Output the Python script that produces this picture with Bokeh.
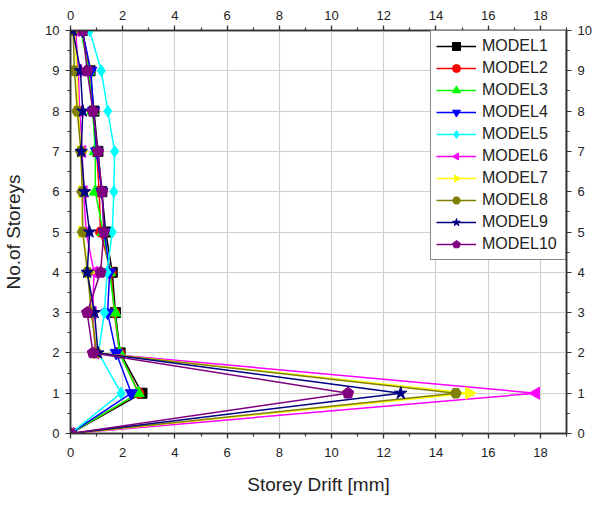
from bokeh.plotting import figure
from bokeh.models import (LinearAxis, SingleIntervalTicker, Range1d, Legend, LegendItem)
from bokeh.embed import file_html
from bokeh.resources import INLINE
import math

storeys = [0, 1, 2, 3, 4, 5, 6, 7, 8, 9, 10]

model1 = [0, 2.74, 1.90, 1.72, 1.60, 1.35, 1.20, 1.05, 0.90, 0.75, 0.45]
model2 = [0, 2.62, 1.88, 1.68, 1.55, 1.15, 1.10, 1.00, 0.85, 0.72, 0.45]
model3 = [0, 2.60, 1.88, 1.70, 1.50, 1.25, 0.95, 0.95, 0.85, 0.70, 0.40]
model4 = [0, 2.33, 1.75, 1.42, 1.50, 1.30, 1.20, 1.00, 0.88, 0.78, 0.45]
model5 = [0, 1.94, 1.07, 1.30, 1.40, 1.60, 1.66, 1.69, 1.43, 1.18, 0.73]
model6 = [0, 17.83, 0.95, 0.85, 0.90, 0.60, 0.50, 0.45, 0.35, 0.30, 0.20]
model7 = [0, 15.27, 1.00, 0.80, 0.70, 0.45, 0.45, 0.40, 0.30, 0.25, 0.15]
model8 = [0, 14.76, 1.00, 0.80, 0.65, 0.47, 0.45, 0.40, 0.26, 0.15, 0.10]
model9 = [0, 12.65, 1.05, 0.92, 0.64, 0.73, 0.54, 0.41, 0.47, 0.38, 0.09]
model10 = [0, 10.63, 0.86, 0.64, 1.15, 1.28, 1.21, 1.05, 0.86, 0.64, 0.47]

names = ["MODEL1", "MODEL2", "MODEL3", "MODEL4", "MODEL5",
         "MODEL6", "MODEL7", "MODEL8", "MODEL9", "MODEL10"]
series = [model1, model2, model3, model4, model5,
          model6, model7, model8, model9, model10]
colors = ["#000000", "#FF0000", "#00FF00", "#0000FF", "#00FFFF",
          "#FF00FF", "#FFFF00", "#808000", "#000080", "#800080"]
markers = ["square", "circle", "triangle", "inverted_triangle", "diamond",
           "ngon3", "ngon3", "hex", "star", "ngon5"]
angles = [0, 0, 0, 0, 0, math.pi / 2, -math.pi / 2, 0, 0, 0]
sizes = [10, 10, 12, 12, 12, 7, 7, 11, 13, 6]

FONT = "Liberation Sans"

p = figure(output_backend="svg", toolbar_location=None,
           frame_width=496, frame_height=403,
           min_border_left=64, min_border_right=24,
           min_border_top=30, min_border_bottom=69,
           x_range=Range1d(0, 19), y_range=Range1d(0, 10),
           x_axis_label="Storey Drift [mm]", y_axis_label="No.of Storeys")
p.background_fill_color = "white"
p.border_fill_color = "white"
p.outline_line_color = "#333333"
p.outline_line_width = 1.5

xt = SingleIntervalTicker(interval=2, num_minor_ticks=2)
yt = SingleIntervalTicker(interval=1, num_minor_ticks=2)
p.xaxis.ticker = xt
p.yaxis.ticker = yt
p.xgrid.ticker = xt
p.ygrid.ticker = yt
p.xgrid.grid_line_color = "#d0d0d0"
p.ygrid.grid_line_color = "#d0d0d0"
p.xgrid.grid_line_width = 1.2
p.ygrid.grid_line_width = 1.2

bottom_ax = p.below[0]
left_ax = p.left[0]
top = LinearAxis(ticker=xt)
right = LinearAxis(ticker=yt)
p.add_layout(top, "above")
p.add_layout(right, "right")

for ax in [bottom_ax, left_ax, top, right]:
    ax.axis_line_color = "#333333"
    ax.axis_line_width = 1.5
    ax.major_tick_line_color = "#333333"
    ax.minor_tick_line_color = "#333333"
    ax.major_tick_line_width = 1.2
    ax.minor_tick_line_width = 1.2
    ax.major_tick_out = 5
    ax.major_tick_in = 0
    ax.minor_tick_out = 3
    ax.minor_tick_in = 0
    ax.major_label_text_font = FONT
    ax.major_label_text_font_size = "13px"
    ax.major_label_text_color = "#222222"
    ax.axis_label_text_font = FONT
    ax.axis_label_text_font_size = "19px"
    ax.axis_label_text_font_style = "normal"
    ax.axis_label_text_color = "#222222"
    ax.major_label_standoff = 6

bottom_ax.major_label_standoff = 9
bottom_ax.axis_label_standoff = 14
left_ax.axis_label_standoff = 18

items = []
for name, ys, c, m, a, s in zip(names, series, colors, markers, angles, sizes):
    ln = p.line(ys, storeys, line_color=c, line_width=1.5)
    if m.startswith("ngon"):
        mk = p.ngon(x=ys, y=storeys, radius=s, n=int(m[4:]), radius_units="screen",
                    angle=a, fill_color=c, line_color=c)
    else:
        mk = p.scatter(ys, storeys, marker=m, size=s,
                       fill_color=c, line_color=c)
    items.append(LegendItem(label=name, renderers=[ln, mk]))

legend = Legend(items=items, location="top_right")
legend.margin = 0
legend.padding = 5
legend.spacing = 2
legend.glyph_width = 40
legend.glyph_height = 20
legend.label_height = 20
legend.label_width = 78
legend.label_standoff = 6
legend.label_text_font = FONT
legend.label_text_font_size = "16px"
legend.label_text_color = "#222222"
legend.border_line_color = "#111111"
legend.border_line_width = 1.5
legend.background_fill_alpha = 1.0
p.add_layout(legend)

open("out.html", "w").write(file_html(p, INLINE))
